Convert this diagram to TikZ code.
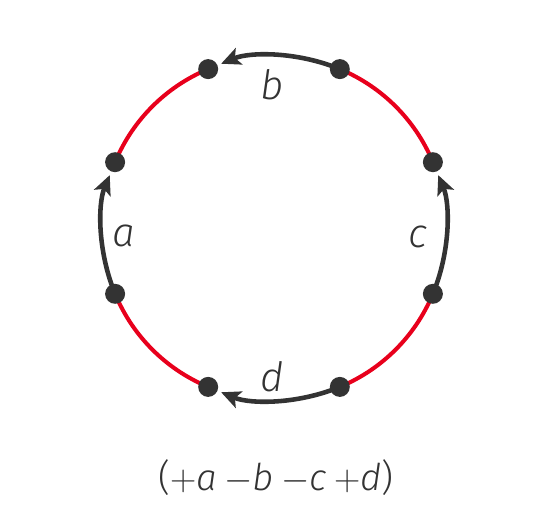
\documentclass[tikz,border=0pt]{standalone}
\usepackage{fontspec}
\setmainfont{Fira Sans Light}[ItalicFont={Fira Sans Light Italic}]
\usetikzlibrary{arrows.meta,backgrounds}
\definecolor{redarc}{RGB}{232,0,28}
\definecolor{ink}{RGB}{51,51,51}
\begin{document}
\begin{tikzpicture}[x=0.02cm,y=0.02cm,
  dot/.style={circle, fill=ink, inner sep=0pt, minimum size=0.4cm},
  redline/.style={draw=redarc, line width=2.3pt},
  edge/.style={draw=ink, line width=2.6pt, -{Stealth[length=11pt,width=10pt,inset=2.5pt]}, shorten >=0.28cm},
  lbl/.style={text=ink, font=\fontsize{23}{27}\selectfont}]
\useasboundingbox (-274,-290) rectangle (260,228);
\node[dot] (p1) at (22.5:172) {};
\node[dot] (p2) at (67.5:172) {};
\node[dot] (p3) at (112.5:172) {};
\node[dot] (p4) at (157.5:172) {};
\node[dot] (p5) at (202.5:172) {};
\node[dot] (p6) at (247.5:172) {};
\node[dot] (p7) at (292.5:172) {};
\node[dot] (p8) at (337.5:172) {};
\begin{scope}[on background layer]
\draw[redline] (p1.center) arc[start angle=22.5, end angle=67.5, radius=172];
\draw[edge] (p2.center) arc[start angle=67.5, end angle=112.5, radius=172];
\draw[redline] (p3.center) arc[start angle=112.5, end angle=157.5, radius=172];
\draw[edge] (p5.center) arc[start angle=202.5, end angle=157.5, radius=172];
\draw[redline] (p5.center) arc[start angle=202.5, end angle=247.5, radius=172];
\draw[edge] (p7.center) arc[start angle=292.5, end angle=247.5, radius=172];
\draw[redline] (p7.center) arc[start angle=292.5, end angle=337.5, radius=172];
\draw[edge] (p8.center) arc[start angle=-22.5, end angle=22.5, radius=172];
\end{scope}
\node[lbl] (b) at (-2,143) {\itshape b};
\node[lbl] (a) at (-150,-8) {\itshape a};
\node[lbl] (c) at (144,-9) {\itshape c};
\node[lbl] (d) at (-2,-149) {\itshape d};
\node[lbl, font=\fontsize{21}{25}\selectfont] (sum) at (2,-250) {($+$\textit{a}\hspace{0.2em}$-$\textit{b}\hspace{0.2em}$-$\textit{c}\hspace{0.2em}$+$\textit{d})};
\end{tikzpicture}
\end{document}
